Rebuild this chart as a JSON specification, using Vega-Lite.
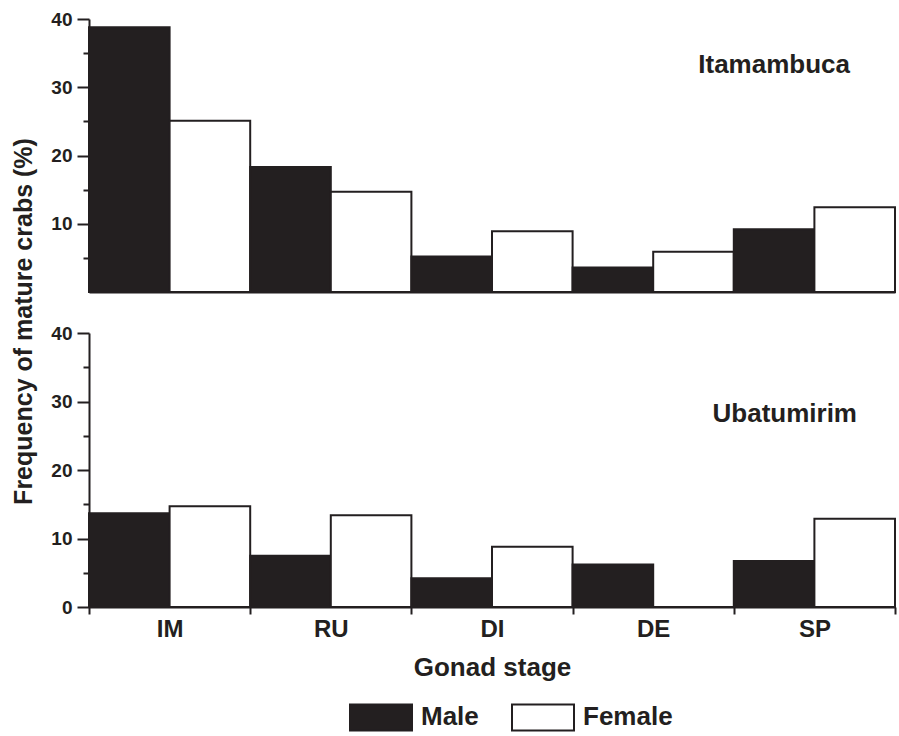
{
  "$schema": "https://vega.github.io/schema/vega-lite/v6.json",
  "background": "white",
  "padding": {"left": 11, "top": 10, "right": 4, "bottom": 5},
  "config": {
    "view": {"stroke": null},
    "font": "Liberation Sans",
    "axis": {
      "domainColor": "#231f20",
      "domainWidth": 2,
      "tickColor": "#231f20",
      "tickWidth": 2,
      "labelColor": "#231f20",
      "labelFont": "Liberation Sans",
      "labelFontWeight": "bold",
      "titleColor": "#231f20",
      "titleFont": "Liberation Sans",
      "titleFontWeight": "bold",
      "grid": false
    },
    "legend": {
      "labelFont": "Liberation Sans",
      "labelColor": "#231f20"
    }
  },
  "datasets": {
    "d": [
      {"site": "Itamambuca", "stage": "IM", "sex": "Male", "value": 38.8},
      {"site": "Itamambuca", "stage": "IM", "sex": "Female", "value": 25.1},
      {"site": "Itamambuca", "stage": "RU", "sex": "Male", "value": 18.3},
      {"site": "Itamambuca", "stage": "RU", "sex": "Female", "value": 14.7},
      {"site": "Itamambuca", "stage": "DI", "sex": "Male", "value": 5.2},
      {"site": "Itamambuca", "stage": "DI", "sex": "Female", "value": 8.9},
      {"site": "Itamambuca", "stage": "DE", "sex": "Male", "value": 3.6},
      {"site": "Itamambuca", "stage": "DE", "sex": "Female", "value": 5.9},
      {"site": "Itamambuca", "stage": "SP", "sex": "Male", "value": 9.2},
      {"site": "Itamambuca", "stage": "SP", "sex": "Female", "value": 12.4},
      {"site": "Ubatumirim", "stage": "IM", "sex": "Male", "value": 13.7},
      {"site": "Ubatumirim", "stage": "IM", "sex": "Female", "value": 14.7},
      {"site": "Ubatumirim", "stage": "RU", "sex": "Male", "value": 7.5},
      {"site": "Ubatumirim", "stage": "RU", "sex": "Female", "value": 13.4},
      {"site": "Ubatumirim", "stage": "DI", "sex": "Male", "value": 4.2},
      {"site": "Ubatumirim", "stage": "DI", "sex": "Female", "value": 8.8},
      {"site": "Ubatumirim", "stage": "DE", "sex": "Male", "value": 6.2},
      {"site": "Ubatumirim", "stage": "DE", "sex": "Female", "value": 0},
      {"site": "Ubatumirim", "stage": "SP", "sex": "Male", "value": 6.7},
      {"site": "Ubatumirim", "stage": "SP", "sex": "Female", "value": 12.9}
    ]
  },
  "bounds": "flush",
  "spacing": 41,
  "vconcat": [
    {
      "width": 806,
      "height": 273,
      "data": {"name": "d"},
      "transform": [{"filter": "datum.site == 'Itamambuca'"}],
      "title": {
        "text": "Itamambuca",
        "orient": "top",
        "anchor": "end",
        "frame": "group",
        "offset": 0,
        "dx": -45,
        "dy": 89,
        "baseline": "alphabetic",
        "font": "Liberation Sans",
        "fontSize": 26,
        "fontWeight": "bold",
        "color": "#231f20"
      },
      "mark": {"type": "bar", "stroke": "#231f20", "strokeWidth": 2},
      "encoding": {
        "x": {
          "field": "stage",
          "type": "nominal",
          "sort": ["IM", "RU", "DI", "DE", "SP"],
          "scale": {"paddingInner": 0, "paddingOuter": 0},
          "axis": {"labels": false, "ticks": false, "title": null, "domain": true}
        },
        "xOffset": {
          "field": "sex",
          "type": "nominal",
          "sort": ["Male", "Female"],
          "scale": {"paddingInner": 0, "paddingOuter": 0}
        },
        "y": {
          "field": "value",
          "type": "quantitative",
          "scale": {"domain": [0, 40], "nice": false},
          "axis": {
            "values": [5, 10, 15, 20, 25, 30, 35, 40],
            "labelExpr": "datum.value % 10 == 0 ? datum.label : ''",
            "tickSize": {"condition": {"test": "datum.value % 10 == 0", "value": 12}, "value": 6},
            "labelFontSize": 19,
            "labelPadding": 5,
            "title": "Frequency of mature crabs (%)",
            "titleFontSize": 25,
            "titleY": 302,
            "titlePadding": 14
          }
        },
        "fill": {
          "field": "sex",
          "type": "nominal",
          "sort": ["Male", "Female"],
          "scale": {"domain": ["Male", "Female"], "range": ["#231f20", "#ffffff"]},
          "legend": {
            "title": null,
            "orient": "none",
            "direction": "horizontal",
            "legendX": 260,
            "legendY": 666,
            "padding": 0,
            "symbolType": "M-1,-0.42H1V0.42H-1Z",
            "symbolSize": 3844,
            "symbolStrokeColor": "#231f20",
            "symbolStrokeWidth": 2,
            "labelFontSize": 26,
            "labelFontWeight": "bold",
            "labelOffset": 8,
            "columnPadding": 29
          }
        }
      }
    },
    {
      "width": 806,
      "height": 274,
      "data": {"name": "d"},
      "transform": [{"filter": "datum.site == 'Ubatumirim'"}],
      "title": {
        "text": "Ubatumirim",
        "orient": "top",
        "anchor": "end",
        "frame": "group",
        "offset": 0,
        "dx": -38,
        "dy": 124,
        "baseline": "alphabetic",
        "font": "Liberation Sans",
        "fontSize": 26,
        "fontWeight": "bold",
        "color": "#231f20"
      },
      "mark": {"type": "bar", "stroke": "#231f20", "strokeWidth": 2},
      "encoding": {
        "x": {
          "field": "stage",
          "type": "nominal",
          "sort": ["IM", "RU", "DI", "DE", "SP"],
          "scale": {"paddingInner": 0, "paddingOuter": 0},
          "axis": {
            "tickBand": "extent",
            "tickSize": 7,
            "labelAngle": 0,
            "labelFontSize": 24,
            "labelPadding": 3,
            "title": "Gonad stage",
            "titleFontSize": 26,
            "titlePadding": 13
          }
        },
        "xOffset": {
          "field": "sex",
          "type": "nominal",
          "sort": ["Male", "Female"],
          "scale": {"paddingInner": 0, "paddingOuter": 0}
        },
        "y": {
          "field": "value",
          "type": "quantitative",
          "scale": {"domain": [0, 40], "nice": false},
          "axis": {
            "values": [0, 5, 10, 15, 20, 25, 30, 35, 40],
            "labelExpr": "datum.value % 10 == 0 ? datum.label : ''",
            "tickSize": {"condition": {"test": "datum.value % 10 == 0", "value": 12}, "value": 6},
            "labelFontSize": 19,
            "labelPadding": 5,
            "title": null
          }
        },
        "fill": {
          "field": "sex",
          "type": "nominal",
          "sort": ["Male", "Female"],
          "scale": {"domain": ["Male", "Female"], "range": ["#231f20", "#ffffff"]}
        }
      }
    }
  ]
}
